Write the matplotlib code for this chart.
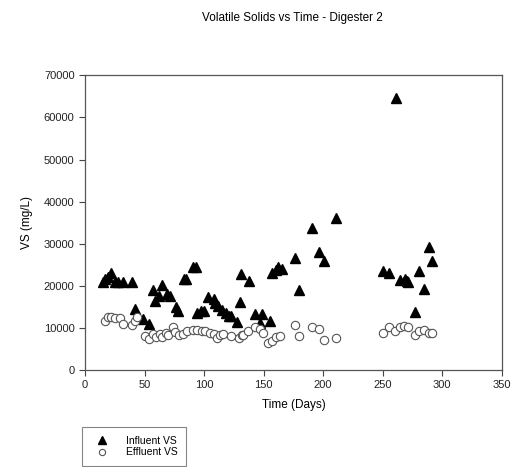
import matplotlib
matplotlib.use("Agg")
import matplotlib.pyplot as plt

plt.rcParams["font.family"] = ["Liberation Sans", "DejaVu Sans"]

# Influent VS (mg/L) by day
inf_day = [15.5, 17, 19, 22, 25, 28, 32, 39.5, 42, 49, 54, 57, 59, 62, 65, 69, 71,
           76, 78, 83, 85, 91, 93, 94, 97, 100, 103.6, 108, 109, 112, 115, 118,
           120.5, 123, 127.5, 130, 131, 138, 143, 146.6, 149, 155, 157, 160, 162,
           165.5, 176.7, 180, 190.7, 196.3, 200.6, 211, 250.3, 255.3, 261.5, 264.3,
           268.5, 270, 271.3, 277, 280.6, 284.8, 289, 291]
inf_vs = [20800, 21500, 22000, 23000, 21000, 21000, 21000, 21000, 14500, 12000, 11000,
          19000, 16500, 17500, 20300, 18000, 17500, 15000, 14000, 21700, 21500, 24500,
          24500, 13500, 14000, 14000, 17300, 16900, 15900, 15100, 14300, 13500, 12900,
          12800, 11500, 16250, 22800, 21250, 13300, 11100, 13300, 11700, 23000, 23800,
          24400, 24000, 26600, 19000, 33700, 28150, 25800, 36100, 23600, 23000, 64600,
          21400, 21600, 21200, 20800, 13700, 23600, 19350, 29200, 25800]

# Effluent VS (mg/L) by day
eff_day = [17, 19, 22, 25, 29, 32, 39.5, 42, 44, 50, 54, 57, 60, 63, 65, 68, 70, 74,
           75.5, 79, 82, 86, 91, 94, 98, 101, 105, 108, 111, 113, 116, 122.5, 129,
           131.5, 133, 137, 143, 146.6, 149.4, 154, 157, 160.7, 164, 176.7, 180,
           190.7, 196.3, 200.6, 211, 250.3, 255.3, 260, 264.3, 268, 271.3, 277,
           280.6, 284.3, 288.5, 291]
eff_vs = [11600, 12500, 12500, 12400, 12400, 11000, 10600, 11600, 12600, 8100, 7400,
          8600, 7800, 8600, 7800, 8900, 8200, 10100, 9000, 8200, 8600, 9300, 9600,
          9600, 9300, 9200, 8900, 8600, 7600, 8200, 8600, 8000, 7700, 8200, 8300,
          9350, 10300, 9700, 8900, 6500, 7000, 7800, 8100, 10700, 8100, 10300, 9700,
          7100, 7500, 8900, 10100, 9350, 10100, 10500, 10300, 8300, 9350, 9500, 8900,
          8700]

fig = plt.figure(figsize=(5.2, 4.67), dpi=100)
ax = fig.add_axes([0.1635, 0.2077, 0.8015, 0.631])

h1, = ax.plot(inf_day, inf_vs, linestyle="none", marker="^", markersize=7.5,
              color="black", label="Influent VS")
h2, = ax.plot(eff_day, eff_vs, linestyle="none", marker="o", markersize=6,
              markerfacecolor="white", markeredgecolor="#555555",
              markeredgewidth=0.8, label="Effluent VS")

ax.set_xlim(0, 350)
ax.set_ylim(0, 70000)
ax.set_xticks(range(0, 351, 50))
ax.set_yticks(range(0, 70001, 10000))
ax.tick_params(labelsize=8, direction="out", length=4, color="#444444",
               labelcolor="#222222")
for s in ax.spines.values():
    s.set_color("#555555")
    s.set_linewidth(0.9)

ax.set_xlabel("Time (Days)", fontsize=8.5, labelpad=6)
ax.set_ylabel("VS (mg/L)", fontsize=8.5, labelpad=8)
fig.text(0.563, 0.961, "Volatile Solids vs Time - Digester 2", fontsize=8.5,
         ha="center", va="center")

leg = fig.legend(handles=[h1, h2], loc="lower left", bbox_to_anchor=(0.158, 0.003),
                 fontsize=7.5, frameon=True, fancybox=False, edgecolor="#666666",
                 handletextpad=1.2, borderpad=0.8, labelspacing=0.15,
                 handlelength=2.2, markerscale=0.75, borderaxespad=0.0)
leg.get_frame().set_linewidth(0.8)

fig.savefig("out.png", dpi=100)
